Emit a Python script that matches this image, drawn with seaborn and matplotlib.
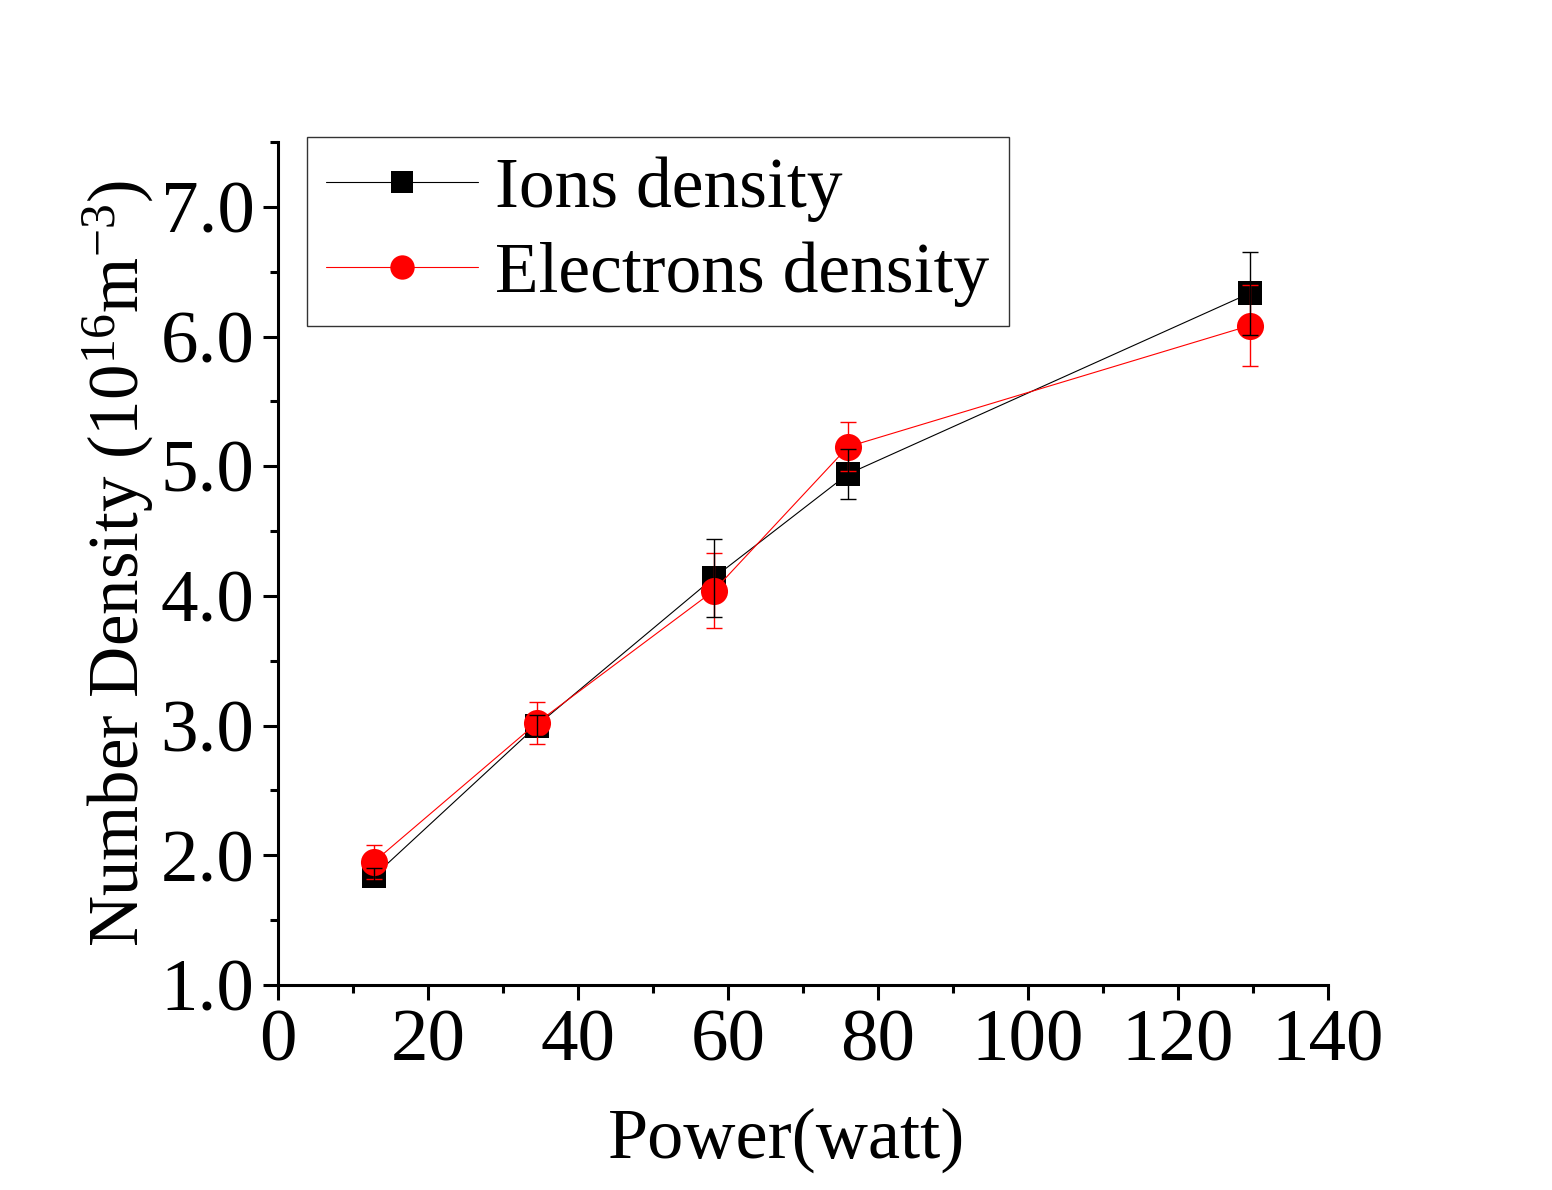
import matplotlib
matplotlib.use("Agg")
import matplotlib.pyplot as plt
import seaborn as sns
import pandas as pd
import numpy as np
from matplotlib.ticker import MultipleLocator, FormatStrFormatter

power = [12.8, 34.5, 58.1, 76.0, 129.6]
ions = [1.84, 3.00, 4.14, 4.94, 6.335]
ions_err = [0.06, 0.08, 0.30, 0.19, 0.32]
electrons = [1.95, 3.02, 4.04, 5.15, 6.085]
electrons_err = [0.13, 0.16, 0.29, 0.19, 0.31]

sns.set_theme(style="ticks")
plt.rcParams['font.family'] = ['Liberation Serif', 'DejaVu Serif']
plt.rcParams['mathtext.fontset'] = 'custom'
plt.rcParams['mathtext.rm'] = 'Liberation Serif'
plt.rcParams['mathtext.it'] = 'Liberation Serif'
plt.rcParams['text.color'] = 'black'
plt.rcParams['axes.labelcolor'] = 'black'
plt.rcParams['xtick.color'] = 'black'
plt.rcParams['ytick.color'] = 'black'

fig = plt.figure(figsize=(15.52, 11.9), dpi=100)
ax = fig.add_axes([278/1552, 1-985/1190, (1328-278)/1552, (985-142)/1190])

df_i = pd.DataFrame({"Power": power, "Density": ions})
df_e = pd.DataFrame({"Power": power, "Density": electrons})

sns.lineplot(data=df_i, x="Power", y="Density", ax=ax, color="black", lw=0.8,
             marker="s", markersize=17, markeredgewidth=0, label="Ions density", zorder=2)
sns.lineplot(data=df_e, x="Power", y="Density", ax=ax, color="red", lw=0.8,
             marker="o", markersize=19.5, markeredgewidth=0, label="Electrons density", zorder=3)

ax.errorbar(power, electrons, yerr=electrons_err, fmt="none", ecolor="red",
            elinewidth=1.0, capsize=5.5, capthick=1.0, zorder=4)
ax.errorbar(power, ions, yerr=ions_err, fmt="none", ecolor="black",
            elinewidth=1.0, capsize=5.5, capthick=1.0, zorder=5)

ax.set_xlim(0, 140)
ax.set_ylim(1.0, 7.5)
ax.xaxis.set_major_locator(MultipleLocator(20))
ax.xaxis.set_minor_locator(MultipleLocator(10))
ax.yaxis.set_major_locator(MultipleLocator(1.0))
ax.yaxis.set_minor_locator(MultipleLocator(0.5))
ax.yaxis.set_major_formatter(FormatStrFormatter("%.1f"))
ax.set_yticks([1, 2, 3, 4, 5, 6, 7])

for s in ["top", "right"]:
    ax.spines[s].set_visible(False)
for s in ["left", "bottom"]:
    ax.spines[s].set_linewidth(2.2)
    ax.spines[s].set_color("black")

ax.tick_params(which="major", direction="out", length=11, width=2.2, labelsize=54,
               colors="black", pad=6)
ax.tick_params(which="minor", direction="out", length=5.5, width=2.2, colors="black")

ax.set_xlabel("Power(watt)", fontsize=52, labelpad=22)
ax.xaxis.set_label_coords(0.484, -0.145)
ax.set_ylabel(r"Number Density (10$^{16}$m$^{-3}$)", fontsize=51, labelpad=3)
ax.grid(False)

leg = ax.legend(loc="upper left", bbox_to_anchor=(307/1552, 1-137/1190),
                bbox_transform=fig.transFigure, fontsize=51.5, frameon=True,
                fancybox=False, edgecolor="black", handlelength=2.12,
                markerscale=0.9, borderpad=0.27, labelspacing=0.27,
                handletextpad=0.24, borderaxespad=0)
leg.get_frame().set_linewidth(1.0)
for t in leg.get_texts():
    t.set_color("black")

fig.savefig("out.png", dpi=100, facecolor="white")
